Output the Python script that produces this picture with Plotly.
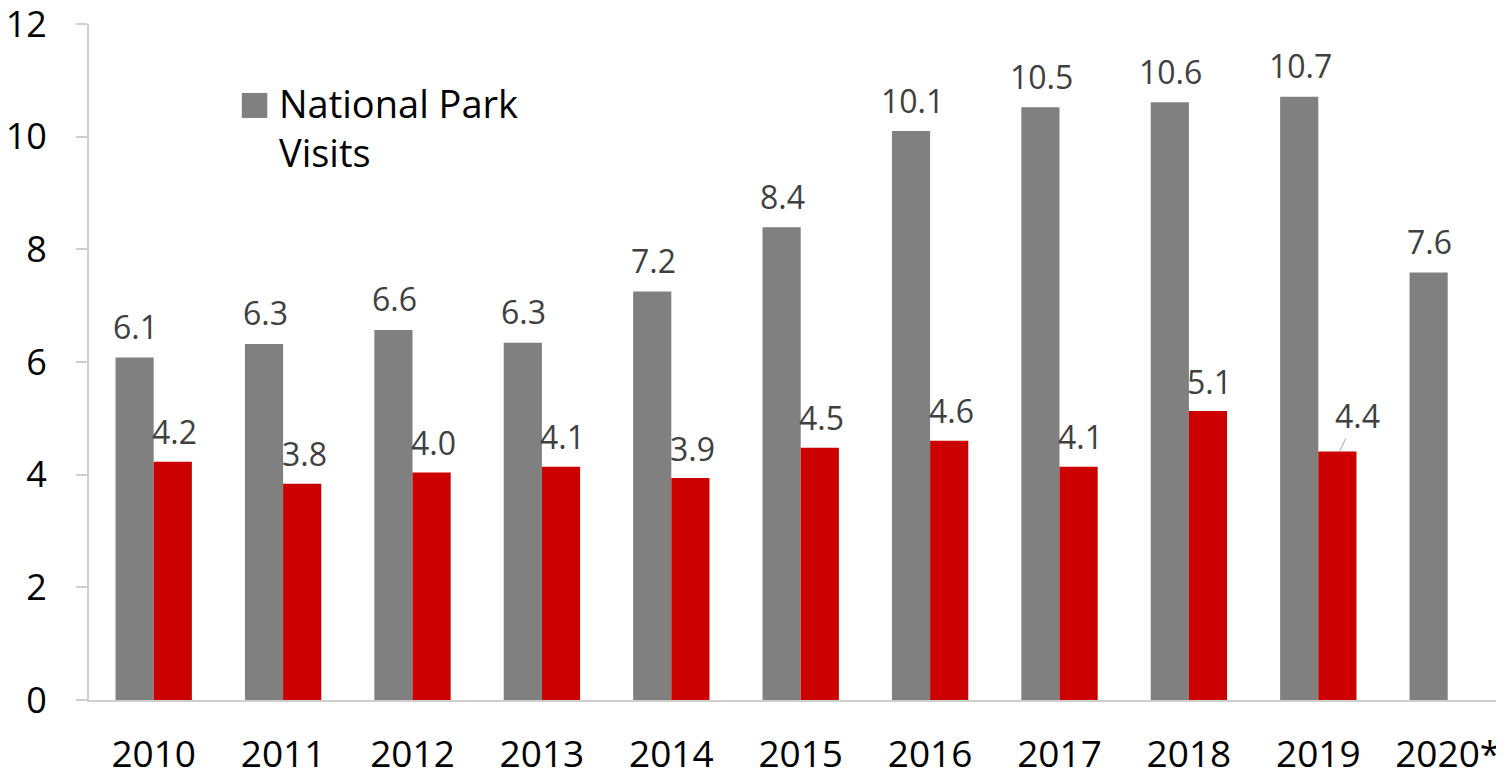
import plotly.graph_objects as go

# Jahre / Kategorien
years = ["2010", "2011", "2012", "2013", "2014", "2015", "2016", "2017", "2018", "2019", "2020*"]

# Besuche Nationalparks (Mio.)
park_visits = [6.08, 6.32, 6.57, 6.34, 7.25, 8.39, 10.10, 10.52, 10.61, 10.71, 7.59]

# zweite Reihe (rot), 2020 ohne Wert
second_series = [4.23, 3.84, 4.04, 4.14, 3.94, 4.48, 4.60, 4.14, 5.13, 4.41, None]

y_ticks = [0, 2, 4, 6, 8, 10, 12]

GRAY = "#808080"
RED = "#CC0000"
LABEL_COLOR = "#404040"
AXIS_COLOR = "#cfcfcf"
FONT = "Open Sans, Noto Sans, sans-serif"

fig = go.Figure()

fig.add_trace(go.Bar(
    x=years, y=park_visits, name="National Park Visits",
    marker=dict(color=GRAY, line=dict(width=0)),
    showlegend=False,
))
fig.add_trace(go.Bar(
    x=years, y=second_series, name="second",
    marker=dict(color=RED, line=dict(width=0)),
    showlegend=False,
))

# Werte-Beschriftungen über den Balken (x als Kategorie-Index,
# sonst werden "2010" usw. als Zahlen gelesen)
annotations = []
for i, v in enumerate(park_visits):
    annotations.append(dict(
        x=i, y=v, text=f"{v:.1f}", showarrow=False,
        xshift=-18, yshift=31, yanchor="middle",
        font=dict(size=32, color=LABEL_COLOR, family=FONT),
    ))
for i, v in enumerate(second_series):
    if v is None:
        continue
    if years[i] == "2019":
        # Beschriftung verschoben, mit Führungslinie
        annotations.append(dict(
            x=i, y=v, text=f"{v:.1f}", showarrow=True,
            xshift=21, ax=18, ay=-36, arrowhead=0, arrowwidth=1,
            arrowcolor="#a6a6a6", standoff=0,
            font=dict(size=32, color=LABEL_COLOR, family=FONT),
        ))
        continue
    annotations.append(dict(
        x=i, y=v, text=f"{v:.1f}", showarrow=False,
        xshift=21, yshift=30, yanchor="middle",
        font=dict(size=32, color=LABEL_COLOR, family=FONT),
    ))

# Legende (nur graue Reihe) als Feld + Text
annotations.append(dict(
    xref="paper", yref="paper", x=0.133, y=0.925,
    xanchor="left", yanchor="top", align="left",
    text="National Park<br>Visits", showarrow=False,
    font=dict(size=38, color="#000000", family=FONT),
))

# Seite hat 8px Rand -> Figur etwas kleiner
fig.update_layout(
    width=1496, height=767,
    margin=dict(l=81, r=0, t=16, b=75),
    paper_bgcolor="white", plot_bgcolor="white",
    barmode="group", bargap=0.41, bargroupgap=0,
    font=dict(family=FONT, color="#000000"),
    annotations=annotations,
    shapes=[dict(
        type="rect", xref="paper", yref="paper",
        x0=0.108, x1=0.126, y0=0.861, y1=0.898,
        fillcolor=GRAY, line=dict(width=0),
    )],
)

# rechter Rand im Original leicht abgeschnitten
fig.update_xaxes(
    type="category", range=[-0.5, len(years) - 0.565], automargin=False,
    showline=True, linecolor=AXIS_COLOR, linewidth=2,
    ticks="", showgrid=False,
    tickfont=dict(size=37, color="#000000", family=FONT),
    ticklabelstandoff=21,
)
fig.update_yaxes(
    range=[0, 12], tickvals=y_ticks, automargin=False,
    ticklabeloverflow="allow",
    showline=True, linecolor=AXIS_COLOR, linewidth=2,
    ticks="outside", ticklen=11, tickcolor=AXIS_COLOR, tickwidth=2,
    showgrid=False, zeroline=False,
    tickfont=dict(size=36, color="#000000", family=FONT),
    ticklabelstandoff=22,
)

fig.write_html("out.html")
